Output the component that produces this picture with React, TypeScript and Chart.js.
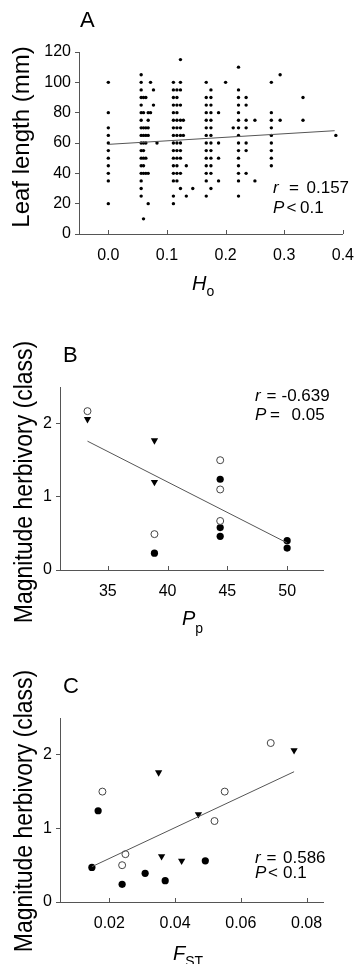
import React, { useEffect, useRef } from "react";
import { Chart, registerables } from "chart.js";
Chart.register(...registerables);

const FONT = '"Liberation Sans", Arial, Helvetica, sans-serif';
const AXIS = "#555";

// ---------- Panel A: leaf length vs Ho ----------
const hoLevels = [
  0.0, 0.056, 0.06, 0.064, 0.068, 0.072, 0.077, 0.083, 0.111, 0.117, 0.123, 0.128, 0.133, 0.144,
  0.167, 0.175, 0.188, 0.2, 0.213, 0.222, 0.235, 0.25, 0.278, 0.293, 0.332, 0.388,
];
const leafLengthsByLevel = [
  [100, 80, 70, 65, 60, 55, 50, 45, 40, 35, 20],
  [105, 100, 95, 90, 85, 80, 75, 70, 65, 60, 55, 50, 45, 40, 35, 30, 25],
  [90, 80, 70, 65, 60, 55, 50, 45, 40, 10],
  [90, 70, 65, 60, 50, 40],
  [80, 75, 70, 65, 40, 20],
  [100, 80],
  [95, 85],
  [60],
  [100, 95, 90, 85, 80, 75, 70, 65, 60, 55, 50, 45, 40, 35, 25, 20],
  [95, 90, 85, 80, 75, 70, 65, 60, 55, 50, 45, 40, 35],
  [115, 100, 95, 85, 75, 70, 65, 60, 55, 50, 40, 30],
  [75, 65],
  [45, 25],
  [30],
  [100, 90, 85, 80, 75, 70, 65, 60, 55, 50, 45, 40, 35, 25],
  [95, 90, 85, 80, 75, 70, 65, 60, 55, 50, 45, 40, 30],
  [80, 60, 50, 35],
  [100],
  [70],
  [110, 95, 90, 85, 80, 75, 70, 65, 60, 55, 50, 45, 40, 35, 25],
  [90, 85, 75, 70, 60, 55, 40],
  [75, 35],
  [100, 80, 75, 70, 65, 60, 55, 50, 45],
  [105, 75],
  [90, 75],
  [65],
];
const hoFitX = [0.0, 0.386];
const hoFitY = [59.1, 68.1];
const hoTicks = [0, 0.1, 0.2, 0.3, 0.4];
const leafTicks = [0, 20, 40, 60, 80, 100, 120];

// ---------- Panel B: herbivory vs Pp ----------
const ppOpenX = [33.3, 38.9, 44.4, 44.4, 44.4];
const ppOpenY = [2.17, 0.49, 1.5, 1.1, 0.67];
const ppFilledX = [38.9, 44.4, 44.4, 44.4, 50.0, 50.0];
const ppFilledY = [0.23, 1.24, 0.58, 0.46, 0.4, 0.3];
const ppTriX = [33.3, 38.9, 38.9];
const ppTriY = [2.06, 1.77, 1.2];
const ppFitX = [33.3, 50.0];
const ppFitY = [1.76, 0.37];
const ppTicks = [35, 40, 45, 50];
const herbTicks = [0, 1, 2];

// ---------- Panel C: herbivory vs FST ----------
const fstOpenX = [0.0179, 0.052, 0.0551, 0.0691, 0.0249, 0.0239];
const fstOpenY = [1.5, 1.1, 1.5, 2.16, 0.65, 0.5];
const fstFilledX = [0.0166, 0.0147, 0.0239, 0.0309, 0.037, 0.0492];
const fstFilledY = [1.24, 0.47, 0.24, 0.39, 0.29, 0.56];
const fstTriX = [0.035, 0.0471, 0.0762, 0.0359, 0.042];
const fstTriY = [1.76, 1.19, 2.06, 0.62, 0.56];
const fstFitX = [0.0147, 0.0762];
const fstFitY = [0.48, 1.77];
const fstTicks = [0.02, 0.04, 0.06, 0.08];

type Pt = { x: number; y: number };
const pts = (xs: number[], ys: number[]): Pt[] => xs.map((x, i) => ({ x, y: ys[i] }));
const leafPoints = (): Pt[] =>
  hoLevels.flatMap((h, i) => leafLengthsByLevel[i].map((v) => ({ x: h, y: v })));

const inwardXTicks = {
  id: "inwardXTicks",
  afterDraw(chart: any) {
    const { ctx, chartArea, scales } = chart;
    const xs = scales.x;
    ctx.save();
    ctx.strokeStyle = AXIS;
    ctx.lineWidth = 1;
    ctx.beginPath();
    xs.ticks.forEach((t: any) => {
      const px = Math.round(xs.getPixelForValue(t.value)) + 0.5;
      ctx.moveTo(px, chartArea.bottom);
      ctx.lineTo(px, chartArea.bottom - 4);
    });
    ctx.stroke();
    ctx.restore();
  },
};

interface PanelSpec {
  datasets: any[];
  xMin: number;
  xMax: number;
  xTicks: number[];
  xDigits: number;
  yMin: number;
  yMax: number;
  yTicks: number[];
  padding: { top: number; right: number; bottom: number; left: number };
  yWidth: number;
  xHeight: number;
}

function buildConfig(s: PanelSpec): any {
  return {
    type: "scatter",
    data: { datasets: s.datasets },
    options: {
      responsive: false,
      animation: false,
      devicePixelRatio: 1,
      layout: { padding: s.padding },
      plugins: { legend: { display: false }, tooltip: { enabled: false } },
      scales: {
        x: {
          type: "linear",
          min: s.xMin,
          max: s.xMax,
          afterBuildTicks: (sc: any) => {
            sc.ticks = s.xTicks.map((v) => ({ value: v }));
          },
          afterFit: (sc: any) => {
            sc.height = s.xHeight;
          },
          grid: { display: false },
          border: { display: true, color: AXIS, width: 1 },
          ticks: {
            autoSkip: false,
            maxRotation: 0,
            padding: 4,
            color: "#000",
            font: { family: FONT, size: 16 },
            callback: (v: any) => Number(v).toFixed(s.xDigits),
          },
        },
        y: {
          type: "linear",
          min: s.yMin,
          max: s.yMax,
          afterBuildTicks: (sc: any) => {
            sc.ticks = s.yTicks.map((v) => ({ value: v }));
          },
          afterFit: (sc: any) => {
            sc.width = s.yWidth;
          },
          grid: { display: true, drawOnChartArea: false, drawTicks: true, tickLength: 4, color: AXIS },
          border: { display: true, color: AXIS, width: 1 },
          ticks: {
            autoSkip: false,
            padding: 4,
            color: "#000",
            font: { family: FONT, size: 16 },
            callback: (v: any) => Number(v).toFixed(0),
          },
        },
      },
    },
    plugins: [inwardXTicks],
  };
}

const fitLine = (data: Pt[]) => ({
  data,
  showLine: true,
  borderColor: "#555",
  borderWidth: 1,
  pointRadius: 0,
  fill: false,
});
const openSet = (data: Pt[]) => ({
  data,
  pointRadius: 3.5,
  pointBackgroundColor: "#fff",
  pointBorderColor: "#444",
  pointBorderWidth: 1,
});
const filledSet = (data: Pt[]) => ({
  data,
  pointRadius: 3.6,
  pointBackgroundColor: "#000",
  pointBorderWidth: 0,
});
const triSet = (data: Pt[]) => ({
  data,
  pointStyle: "triangle",
  pointRotation: 180,
  pointRadius: 4.2,
  pointBackgroundColor: "#000",
  pointBorderColor: "#000",
  pointBorderWidth: 0,
});

const specA: PanelSpec = {
  datasets: [
    fitLine(pts(hoFitX, hoFitY)),
    { data: leafPoints(), pointRadius: 1.7, pointBackgroundColor: "#000", pointBorderWidth: 0 },
  ],
  xMin: -0.05,
  xMax: 0.4,
  xTicks: hoTicks,
  xDigits: 1,
  yMin: 0,
  yMax: 120,
  yTicks: leafTicks,
  padding: { top: 52, right: 15, bottom: 26, left: 0 },
  yWidth: 79,
  xHeight: 40,
};

const specB: PanelSpec = {
  datasets: [
    fitLine(pts(ppFitX, ppFitY)),
    openSet(pts(ppOpenX, ppOpenY)),
    filledSet(pts(ppFilledX, ppFilledY)),
    triSet(pts(ppTriX, ppTriY)),
  ],
  xMin: 31,
  xMax: 53,
  xTicks: ppTicks,
  xDigits: 0,
  yMin: 0,
  yMax: 2.5,
  yTicks: herbTicks,
  padding: { top: 87, right: 35, bottom: 20, left: 0 },
  yWidth: 60,
  xHeight: 40,
};

const specC: PanelSpec = {
  datasets: [
    fitLine(pts(fstFitX, fstFitY)),
    openSet(pts(fstOpenX, fstOpenY)),
    filledSet(pts(fstFilledX, fstFilledY)),
    triSet(pts(fstTriX, fstTriY)),
  ],
  xMin: 0.005,
  xMax: 0.085,
  xTicks: fstTicks,
  xDigits: 2,
  yMin: 0,
  yMax: 2.5,
  yTicks: herbTicks,
  padding: { top: 88, right: 35, bottom: 22, left: 0 },
  yWidth: 60,
  xHeight: 40,
};

function Panel({ top, height, spec }: { top: number; height: number; spec: PanelSpec }) {
  const ref = useRef<HTMLCanvasElement>(null);
  useEffect(() => {
    const chart = new Chart(ref.current as HTMLCanvasElement, buildConfig(spec));
    return () => chart.destroy();
  }, []);
  return (
    <canvas
      ref={ref}
      width={358}
      height={height}
      style={{ position: "absolute", left: 0, top, width: 358, height, display: "block" }}
    />
  );
}

const BASE = 0.8465;
function T({ x, base, size = 17, children }: { x: number; base: number; size?: number; children: any }) {
  return (
    <div
      style={{
        position: "absolute",
        left: x,
        top: base - BASE * size,
        fontSize: size,
        lineHeight: `${size}px`,
        fontFamily: FONT,
        whiteSpace: "nowrap",
        color: "#000",
      }}
    >
      {children}
    </div>
  );
}

function VT({ x, cy, size, scale, children }: { x: number; cy: number; size: number; scale: number; children: any }) {
  return (
    <div style={{ position: "absolute", left: x, top: cy, width: 0, height: 0 }}>
      <div
        style={{
          position: "absolute",
          left: 0,
          top: 0,
          fontSize: size,
          lineHeight: `${size}px`,
          fontFamily: FONT,
          whiteSpace: "nowrap",
          color: "#000",
          transformOrigin: "0 0",
          transform: `rotate(-90deg) scaleX(${scale}) translate(-50%, -${BASE * size}px)`,
        }}
      >
        {children}
      </div>
    </div>
  );
}

function Sub({ size, dy, children }: { size: number; dy: number; children: any }) {
  return <span style={{ fontSize: size, position: "relative", top: dy, fontStyle: "normal" }}>{children}</span>;
}

export default function App() {
  return (
    <div style={{ position: "absolute", left: 0, top: 0, width: 358, height: 964, background: "#fff", overflow: "hidden" }}>
      <Panel top={0} height={300} spec={specA} />
      <Panel top={300} height={330} spec={specB} />
      <Panel top={630} height={334} spec={specC} />

      {/* Panel A texts */}
      <T x={80} base={28} size={22}>A</T>
      <VT x={28.5} cy={136.5} size={24} scale={1}>Leaf length (mm)</VT>
      <T x={192} base={290} size={20}>
        <i>H</i>
        <Sub size={14} dy={6}>o</Sub>
      </T>
      <T x={273} base={193.3}><i>r</i></T>
      <T x={289} base={193.3}>=</T>
      <T x={306.5} base={193.3}>0.157</T>
      <T x={273} base={213.3}><i>P</i></T>
      <T x={286.5} base={213.3}>&lt;</T>
      <T x={300} base={213.3}>0.1</T>

      {/* Panel B texts */}
      <T x={63} base={363} size={22}>B</T>
      <VT x={31.7} cy={481.5} size={25} scale={0.92}>Magnitude herbivory (class)</VT>
      <T x={182} base={625} size={20}>
        <i>P</i>
        <Sub size={14} dy={8}>p</Sub>
      </T>
      <T x={255} base={401.7}><i>r</i></T>
      <T x={266.5} base={401.7}>=</T>
      <T x={281.5} base={401.7}>-0.639</T>
      <T x={255} base={420}><i>P</i></T>
      <T x={270} base={420}>=</T>
      <T x={291.5} base={420}>0.05</T>

      {/* Panel C texts */}
      <T x={63} base={694} size={22}>C</T>
      <VT x={31.7} cy={811} size={25} scale={0.92}>Magnitude herbivory (class)</VT>
      <T x={173} base={960} size={20}>
        <i>F</i>
        <Sub size={14} dy={6}>ST</Sub>
      </T>
      <T x={255} base={863.3}><i>r</i></T>
      <T x={266.5} base={863.3}>=</T>
      <T x={283} base={863.3}>0.586</T>
      <T x={255} base={878.3}><i>P</i></T>
      <T x={268} base={878.3}>&lt;</T>
      <T x={283} base={878.3}>0.1</T>
    </div>
  );
}
